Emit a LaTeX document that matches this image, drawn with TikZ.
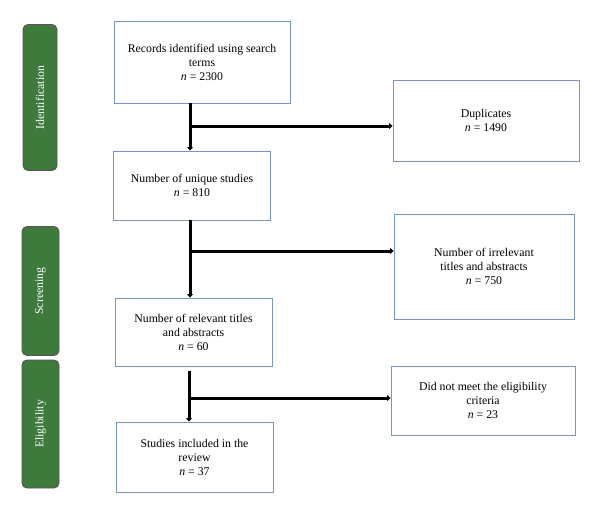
\documentclass[tikz,border=0pt]{standalone}
\usepackage{fontspec}
\setmainfont{Liberation Serif}
\usetikzlibrary{arrows.meta}
\definecolor{boxline}{RGB}{122,150,190}
\definecolor{phasefill}{RGB}{62,122,60}
\definecolor{phaseline}{RGB}{95,80,95}
\newcommand{\nval}[1]{\textit{n}~=~#1}
\begin{document}
\begin{tikzpicture}[x=1pt,y=-1pt,
  stepbox/.style={draw=boxline, line width=0.9pt, fill=white, align=center, inner sep=2pt, font=\fontsize{11.8}{14}\selectfont},
  phase/.style={draw=phaseline, line width=0.9pt, fill=phasefill, rounded corners=5pt},
  phasetext/.style={text=white, rotate=90, font=\fontsize{11.8}{13}\selectfont},
  flow/.style={line width=3pt, -{Triangle[length=3.5pt,width=6pt]}},
]
\useasboundingbox (0,0) rectangle (600,514);
% phase labels
\node[phase, minimum width=34pt, minimum height=146pt] (pid) at (40,97.5) {};
\node[phasetext] (pidt) at (pid.center) {Identification};
\node[phase, minimum width=37pt, minimum height=129pt] (psc) at (40.5,291) {};
\node[phasetext] (psct) at (psc.center) {Screening};
\node[phase, minimum width=37pt, minimum height=128pt] (pel) at (40.5,424) {};
\node[phasetext] (pelt) at (pel.center) {Eligibility};
% main boxes
\node[stepbox, minimum width=176pt, minimum height=82pt] (records) at (202,62) {Records identified using search\\terms\\\nval{2300}};
\node[stepbox, minimum width=157pt, minimum height=69pt] (unique) at (192,185.5) {Number of unique studies\\\nval{810}};
\node[stepbox, minimum width=157pt, minimum height=68pt] (relevant) at (193.5,332) {Number of relevant titles\\and abstracts\\\nval{60}};
\node[stepbox, minimum width=157pt, minimum height=70pt] (included) at (194.5,457) {Studies included in the\\review\\\nval{37}};
% side boxes
\node[stepbox, minimum width=186pt, minimum height=81pt] (dup) at (486,120.5) {Duplicates\\\nval{1490}};
\node[stepbox, minimum width=180pt, minimum height=105pt] (irr) at (484,266.5) {Number of irrelevant\\titles and abstracts\\\nval{750}};
\node[stepbox, minimum width=184pt, minimum height=69pt] (elig) at (483,400.5) {Did not meet the eligibility\\criteria\\\nval{23}};
% junctions
\coordinate (j1) at (190,126);
\coordinate (j2) at (190,251);
\coordinate (j3) at (189,398);
% connectors
\draw[flow] (records.south -| j1) -- (unique.north -| j1);
\draw[flow] (j1) -- (dup.west |- j1);
\draw[flow] (unique.south -| j2) -- (relevant.north -| j2);
\draw[flow] (j2) -- (irr.west |- j2);
\draw[flow, shorten <=5pt] (relevant.south -| j3) -- (included.north -| j3);
\draw[flow] (j3) -- (elig.west |- j3);
\end{tikzpicture}
\end{document}
